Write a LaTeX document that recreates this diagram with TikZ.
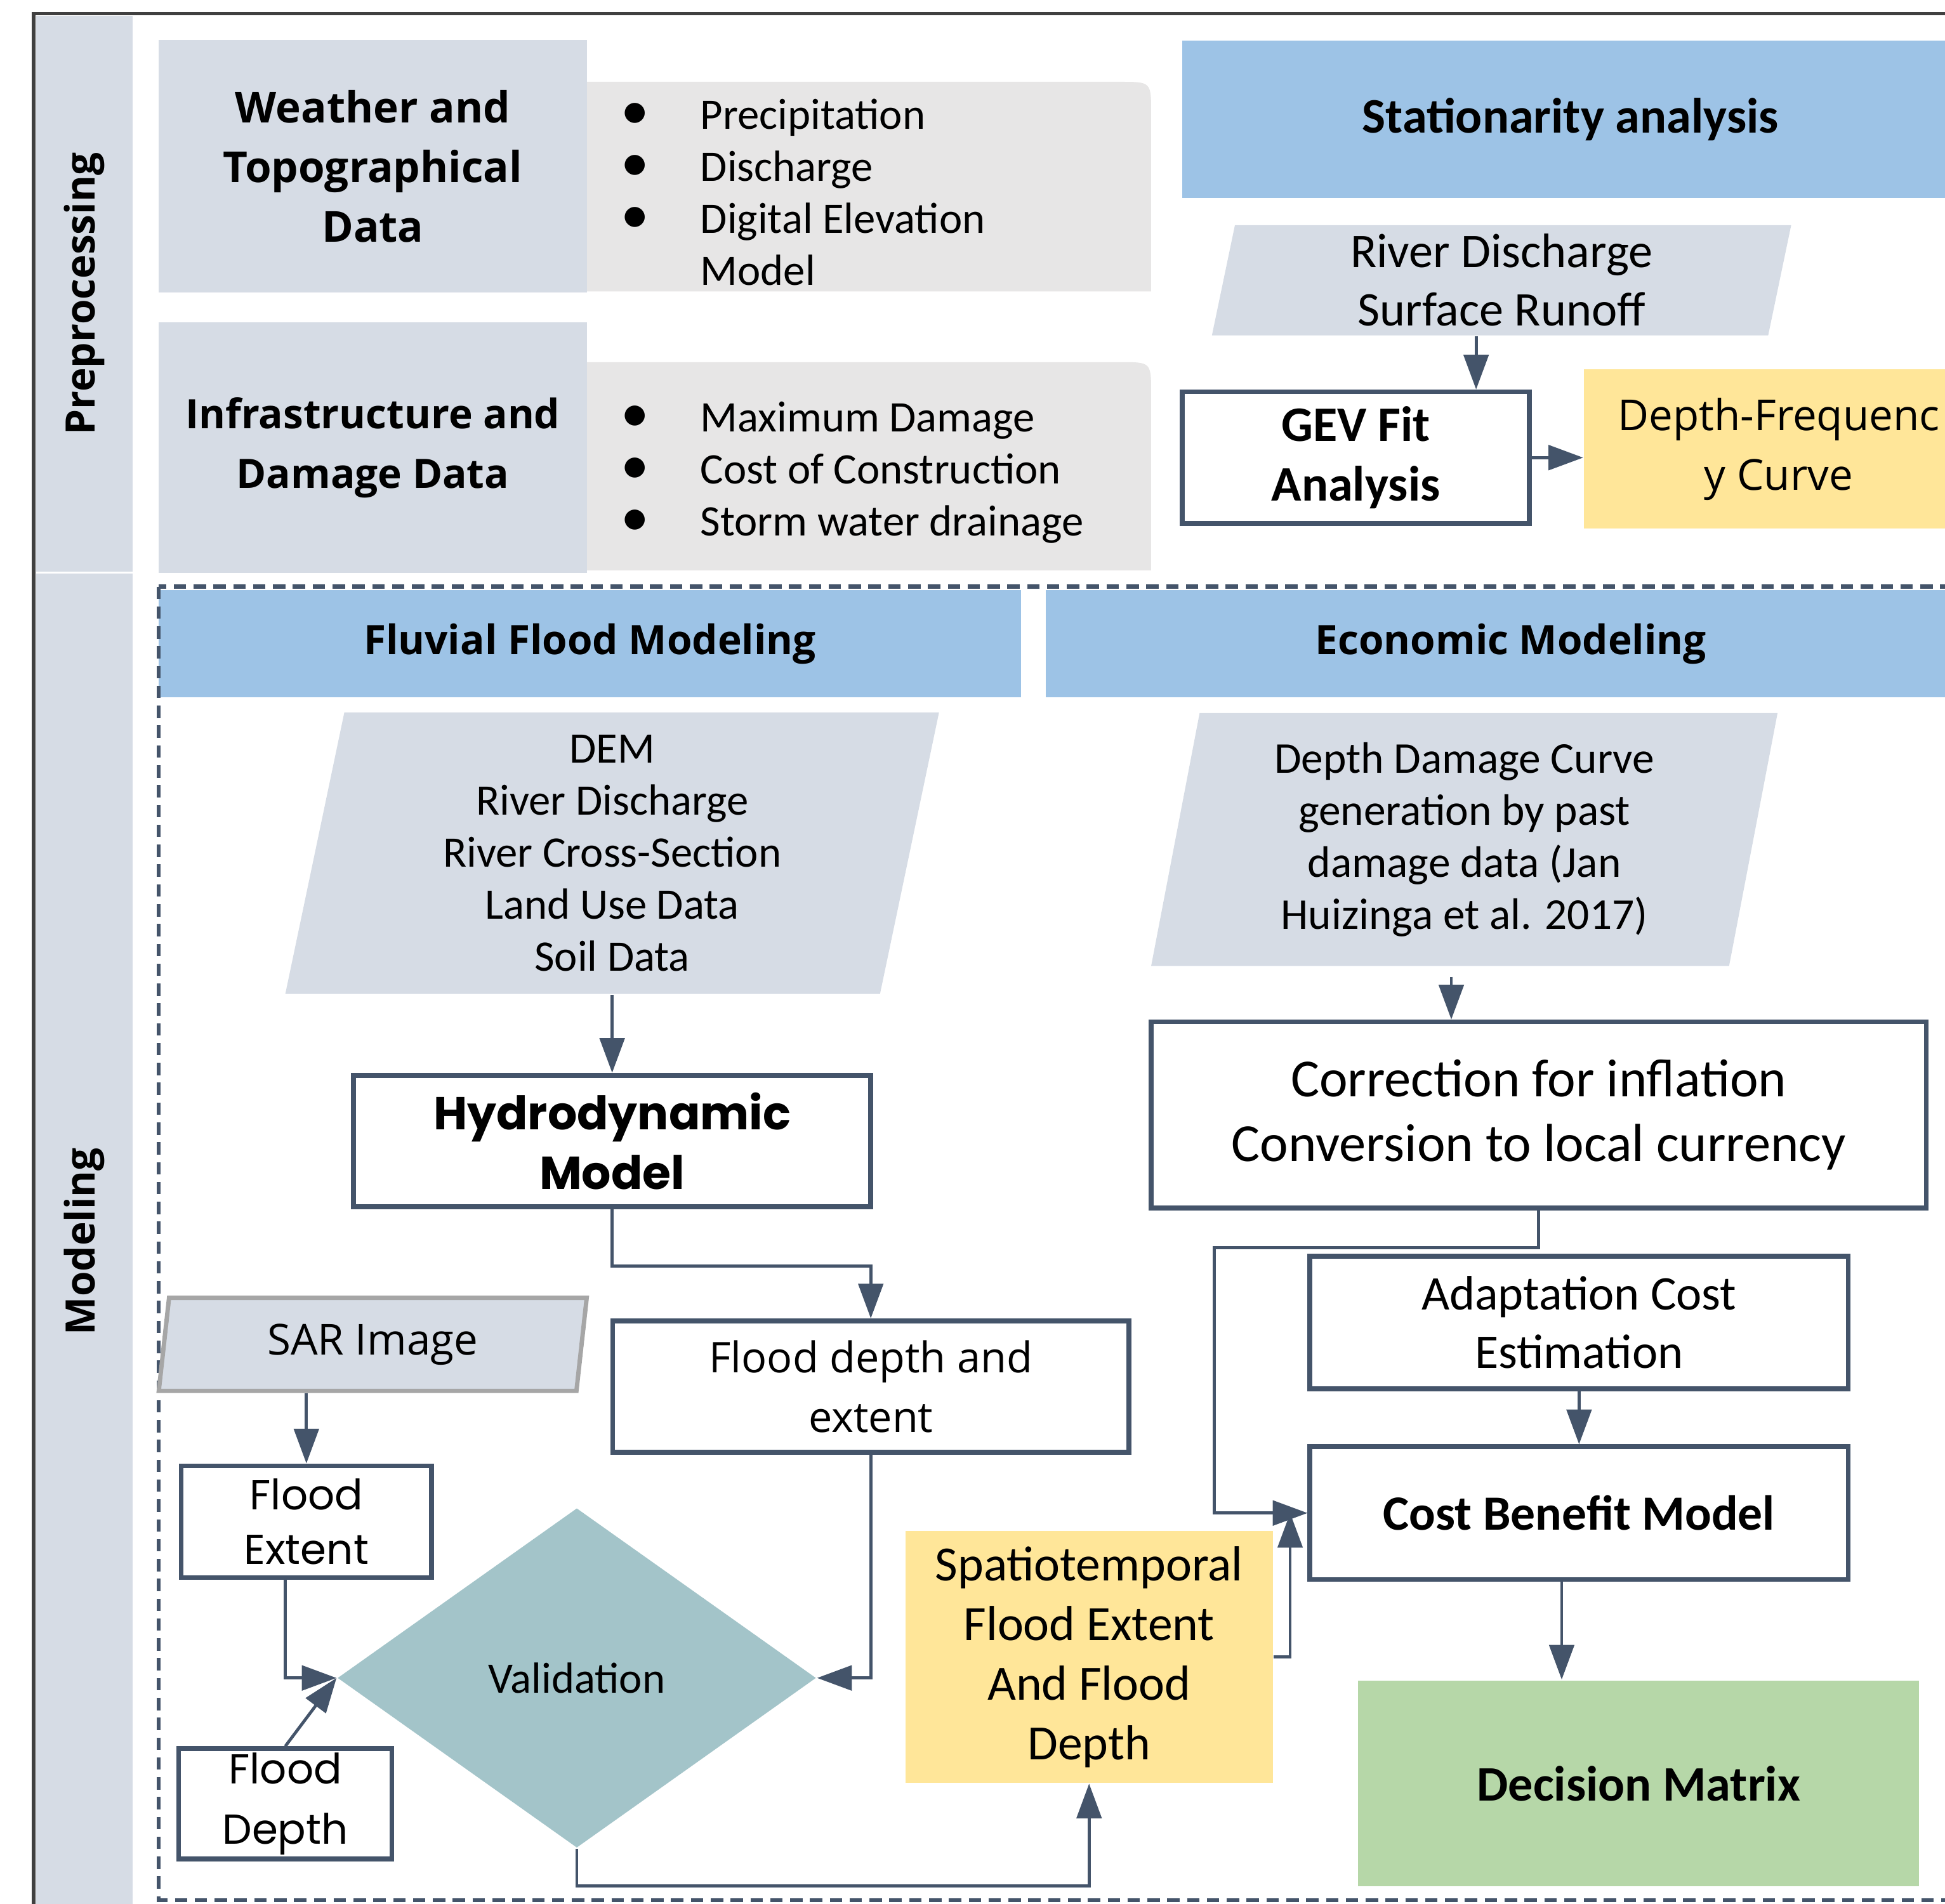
\documentclass[tikz,border=0pt]{standalone}
\usepackage{fontspec}
\setmainfont{Carlito}
\newfontfamily\segoe{Open Sans}
\newfontfamily\gothic{Poppins}
\usetikzlibrary{shapes.geometric, arrows.meta}

\definecolor{bluegray}{HTML}{D6DCE5}
\definecolor{listgray}{HTML}{E7E6E6}
\definecolor{headblue}{HTML}{9DC3E6}
\definecolor{paleyellow}{HTML}{FFE699}
\definecolor{palegreen}{HTML}{B6D7A8}
\definecolor{tealgray}{HTML}{A3C4C9}
\definecolor{slate}{HTML}{44546A}

\newcommand{\bul}{\makebox[6.4mm][l]{\fontsize{13}{12}\selectfont\textbullet}}

\begin{document}
\begin{tikzpicture}[x=0.1mm, y=-0.1mm,
    every node/.style={inner sep=0pt, align=center},
    strip/.style={fill=bluegray, rotate=90, font=\segoe\bfseries\fontsize{9.3}{11}\selectfont},
    datablk/.style={fill=bluegray, font=\segoe\bfseries\fontsize{9.8}{13.7}\selectfont},
    listtext/.style={anchor=west, align=left, font=\fontsize{10}{11.95}\selectfont},
    header/.style={fill=headblue, font=\segoe\bfseries\fontsize{9.3}{11}\selectfont},
    process/.style={draw=slate, line width=1.1pt, fill=white},
    inputdata/.style={trapezium, trapezium left angle=76, trapezium right angle=104,
        trapezium stretches body, fill=bluegray},
    result/.style={fill=paleyellow},
    arr/.style={draw=slate, line width=0.7pt, -{Triangle[length=2.8mm, width=2mm]}}
]
\useasboundingbox (0,0) rectangle (1568,1535);

% side labels and frame
\node[strip, minimum width=44.8mm, minimum height=7.8mm] (prep) at (68,237) {Preprocessing};
\node[strip, minimum width=107.7mm, minimum height=7.8mm] (model) at (68,1001) {Modeling};
\draw[line width=0.8pt, black!75] (27,1545) |- (1600,11);

% preprocessing
\fill[listgray] (460,235) -- (460,66) -- (903,66) .. controls (928,66) .. (928,91) -- (928,235) -- cycle;
\fill[listgray] (460,460) -- (460,292) -- (903,292) .. controls (928,292) .. (928,317) -- (928,460) -- cycle;
\node[datablk, minimum width=34.5mm, minimum height=20.4mm] (weather) at (300.5,134) {Weather and\\Topographical\\Data};
\node[datablk, font=\segoe\bfseries\fontsize{9.3}{13.7}\selectfont, minimum width=34.5mm, minimum height=20.2mm] (infra) at (300.5,361) {Infrastructure and\\Damage Data};
\node[listtext] (wlist) at (500,155) {\bul Precipitation\\\bul Discharge\\\bul Digital Elevation\\\hspace*{6.4mm}Model};
\node[listtext] (ilist) at (500,381) {\bul Maximum Damage\\\bul Cost of Construction\\\bul Storm water drainage};

\node[header, font=\bfseries\fontsize{11.4}{13.7}\selectfont, minimum width=62.6mm, minimum height=12.7mm] (station) at (1266,96) {Stationarity analysis};
\node[inputdata, minimum width=46.7mm, minimum height=8.9mm, font=\fontsize{11.1}{13.4}\selectfont] (riverq) at (1210.5,226) {River Discharge\\Surface Runoff};
\node[process, minimum width=28mm, minimum height=10.6mm, font=\bfseries\fontsize{11.4}{13.7}\selectfont] (gev) at (1093,369) {GEV Fit\\Analysis};
\node[result, minimum width=31.4mm, minimum height=12.8mm, font=\segoe\fontsize{9.8}{13.7}\selectfont] (freq) at (1434,362) {Depth-Frequenc\\y Curve};

\draw[arr] (riverq.south -| 1190,0) -- (1190,0 |- gev.north);
\draw[arr] (gev.east) -- (gev.east -| freq.west);

% modeling
\node[header, minimum width=69.5mm, minimum height=8.6mm] (fluvial) at (475.5,519) {Fluvial Flood Modeling};
\node[header, minimum width=75mm, minimum height=8.6mm] (econ) at (1218,519) {Economic Modeling};
\draw[slate, line width=0.9pt, dash pattern=on 1mm off 0.6mm] (128,473) rectangle (1600,1532);

\node[inputdata, minimum width=52.7mm, minimum height=22.7mm, font=\fontsize{10}{11.95}\selectfont] (dem) at (493.5,688) {DEM\\River Discharge\\River Cross-Section\\Land Use Data\\Soil Data};
\node[process, minimum width=41.7mm, minimum height=10.6mm, font=\gothic\bfseries\fontsize{10.6}{13.7}\selectfont] (hydro) at (493.5,920) {Hydrodynamic\\Model};
\node[process, minimum width=41.6mm, minimum height=10.6mm, font=\segoe\fontsize{9.7}{13.7}\selectfont] (fde) at (702,1118) {Flood depth and\\extent};

\node[inputdata, draw=black!35, line width=1pt, minimum width=34.5mm, minimum height=7.5mm, font=\segoe\fontsize{9.8}{12}\selectfont] (sar) at (300.5,1084) {SAR Image};
\node[process, minimum width=20.2mm, minimum height=9mm, font=\gothic\fontsize{9.6}{12.5}\selectfont] (fext) at (247,1227) {Flood\\Extent};
\node[process, minimum width=17.2mm, minimum height=8.9mm, font=\gothic\fontsize{9.6}{13.7}\selectfont] (fdep) at (230,1454.5) {Flood\\Depth};
\node[diamond, fill=tealgray, aspect=1.4, minimum width=38.6mm, minimum height=27.4mm, font=\fontsize{10}{12}\selectfont] (valid) at (465,1353) {Validation};
\node[result, minimum width=29.6mm, minimum height=20.3mm, font=\fontsize{11.3}{13.7}\selectfont] (spat) at (878,1336) {Spatiotemporal\\Flood Extent\\And Flood\\Depth};

\node[inputdata, minimum width=50.5mm, minimum height=20.4mm, font=\fontsize{10.1}{11.95}\selectfont] (ddc) at (1180.5,677) {Depth Damage Curve\\generation by past\\damage data (Jan\\Huizinga et al. 2017)};
\node[process, minimum width=62.5mm, minimum height=15mm, font=\fontsize{12.3}{14.8}\selectfont] (corr) at (1240.5,899) {Correction for inflation\\Conversion to local currency};
\node[process, minimum width=43.4mm, minimum height=10.7mm, font=\fontsize{11.1}{13.4}\selectfont] (adapt) at (1273,1066.5) {Adaptation Cost\\Estimation};
\node[process, minimum width=43.4mm, minimum height=10.7mm, font=\bfseries\fontsize{11.3}{13.6}\selectfont] (cbm) at (1273,1220) {Cost Benefit Model};
\node[fill=palegreen, minimum width=45.2mm, minimum height=16.6mm, font=\bfseries\fontsize{11.4}{13.7}\selectfont] (decision) at (1321,1438) {Decision Matrix};

\draw[arr] (dem.center |- dem.south) -- (hydro.north);
\draw[arr] (hydro.south) -- ++(0,46) -| (fde.north);
\draw[arr] (sar.south -| fext.north) -- (fext.north);
\draw[arr] ([xshift=-1.7mm]fext.south) |- (valid.west);
\draw[arr] (fdep.north) -- (valid.west);
\draw[arr] (fde.south) |- (valid.east);
\draw[arr] (valid.south) -- ++(0,30) -| (spat.south);

\draw[arr, shorten <=0.8mm] (ddc.south -| 1170,0) -- (1170,0 |- corr.north);
\draw[arr] (corr.south) -- ++(0,30) -| ([xshift=-7.5mm]cbm.west) -- (cbm.west);
\draw[arr] (adapt.south) -- (cbm.north);
\draw[arr] (spat.east) -| ([xshift=-1.4mm]cbm.west);
\draw[arr] ([xshift=-1.4mm]cbm.south) -- ([xshift=-1.4mm]cbm.south |- decision.north);
\end{tikzpicture}
\end{document}
